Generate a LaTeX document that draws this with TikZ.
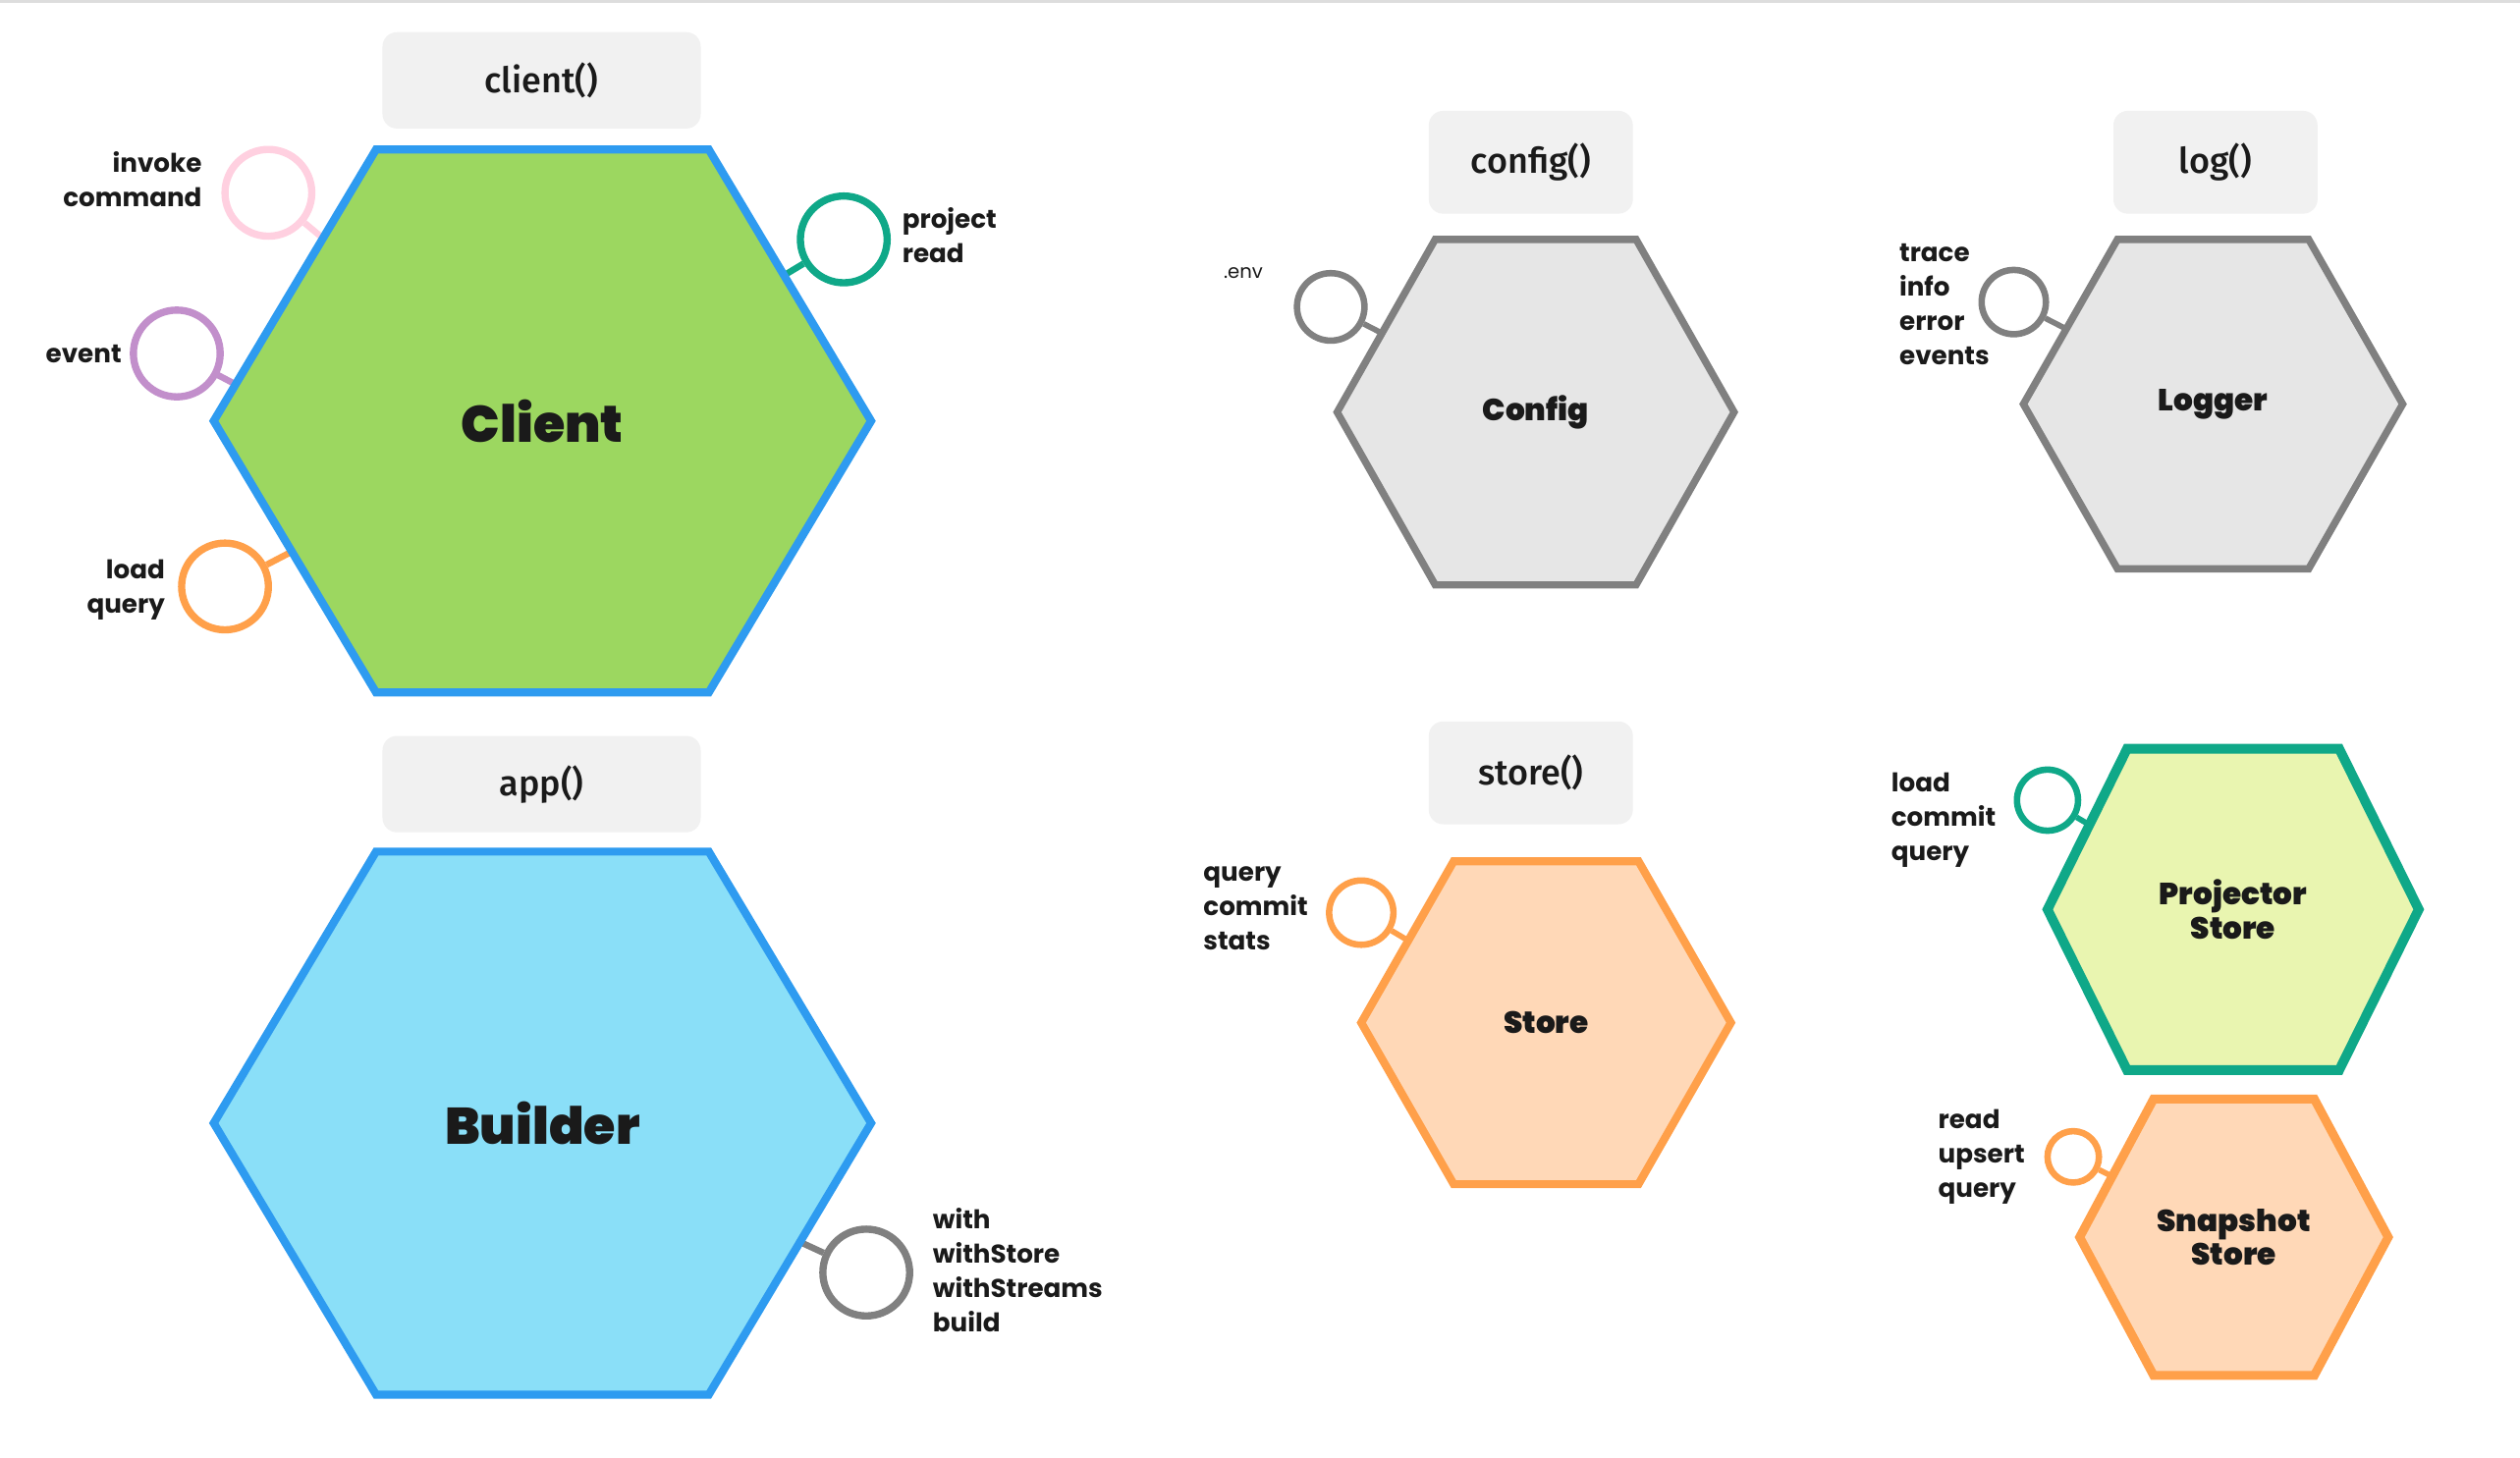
\documentclass[tikz,border=0pt]{standalone}
\usepackage{fontspec}
\setmainfont{Poppins}
\newfontfamily\boxfont{Fira Sans Medium}
\newfontfamily\heavyfont{Poppins Black}
\usepackage{tikz}
\usetikzlibrary{positioning, calc, backgrounds}
\definecolor{colBlue}{RGB}{46,155,240}
\definecolor{colGreen}{RGB}{156,215,96}
\definecolor{colCyan}{RGB}{138,223,248}
\definecolor{colGray}{RGB}{128,128,128}
\definecolor{colLight}{RGB}{230,230,230}
\definecolor{colOrange}{RGB}{255,160,74}
\definecolor{colPeach}{RGB}{255,216,183}
\definecolor{colTeal}{RGB}{15,168,136}
\definecolor{colLime}{RGB}{233,245,176}
\definecolor{colPink}{RGB}{255,208,224}
\definecolor{colPurple}{RGB}{194,143,203}
\definecolor{colBox}{RGB}{241,241,241}
\definecolor{colInk}{RGB}{26,26,26}
\definecolor{colRule}{RGB}{221,221,221}

% name, label options, centre, half width, half height, half top edge, path style, text
\newcommand{\hexnode}[8]{%
  \path[#7] ($(#3)+(-#6,-#5)$) -- ($(#3)+(#6,-#5)$) -- ($(#3)+(#4,0)$)
    -- ($(#3)+(#6,#5)$) -- ($(#3)+(-#6,#5)$) -- ($(#3)+(-#4,0)$) -- cycle;
  \node[hexlbl, #2] (#1) at (#3) {#8};
}

\begin{document}
\begin{tikzpicture}[
  x=1pt, y=-1pt,
  hexlbl/.style={font=\heavyfont\fontsize{19}{21}\selectfont, text=colInk, align=center},
  bighex/.style={font=\heavyfont\fontsize{32}{36}\selectfont},
  hexside/.style={line width=5pt, line join=miter},
  fnbox/.style={rounded corners=9pt, fill=colBox, text=colInk,
                font=\boxfont\fontsize{22}{26}\selectfont},
  port/.style={circle, draw=#1, line width=4.5pt, fill=white, inner sep=0pt},
  stub/.style={draw=#1, line width=4pt},
  portlbl/.style={font=\bfseries\fontsize{16}{21.5}\selectfont, text=colInk, inner sep=0pt},
]
\path[use as bounding box] (0,0) rectangle (1568,907);
\draw[colRule, line width=2pt] (0,1) -- (1568,1);

% function boxes
\node[fnbox, minimum width=198pt, minimum height=60pt] (clientfn) at (337,50) {client()};
\node[fnbox, minimum width=198pt, minimum height=60pt] (appfn) at (337,488) {app()};
\node[fnbox, minimum width=127pt, minimum height=64pt] (configfn) at (952.5,101) {config()};
\node[fnbox, minimum width=127pt, minimum height=64pt] (logfn) at (1378.5,101) {log()};
\node[fnbox, minimum width=127pt, minimum height=64pt] (storefn) at (952.5,481) {store()};

% hexagons
\hexnode{client}{bighex}{337.5,262}{204.5}{169}{103.5}{hexside, fill=colGreen, draw=colBlue}{Client}
\hexnode{builder}{bighex}{337.5,699}{204.5}{169}{103.5}{hexside, fill=colCyan, draw=colBlue}{Builder}
\hexnode{config}{}{955.5,256.5}{123.5}{107.5}{62.5}{hexside, line width=4.5pt, fill=colLight, draw=colGray}{Config}
\hexnode{logger}{}{1377,251.5}{118}{102.5}{59.5}{hexside, line width=4.5pt, fill=colLight, draw=colGray}{Logger}
\hexnode{store}{}{962,636.5}{115}{100.5}{57.5}{hexside, fill=colPeach, draw=colOrange}{Store}
\hexnode{projector}{}{1389.5,566}{115.5}{100}{66}{hexside, line width=6pt, fill=colLime, draw=colTeal}{Projector\\Store}
\hexnode{snapshot}{}{1390,770}{96}{86}{50}{hexside, line width=5.5pt, fill=colPeach, draw=colOrange}{Snapshot\\Store}
\coordinate (client-evt) at (190,262);

% ports
\node[port=colPink, minimum size=54pt] (invoke) at (167,120) {};
\node[portlbl, align=right, left=12pt of invoke, yshift=8.5pt] (invoke-l) {invoke\\command};
\node[port=colPurple, minimum size=54pt] (event) at (110,220) {};
\node[portlbl, left=5pt of event] (event-l) {event};
\node[port=colOrange, minimum size=54pt] (loadq) at (140,365) {};
\node[portlbl, align=right, left=8pt of loadq, yshift=-2pt] (loadq-l) {load\\query};
\node[port=colTeal, minimum size=54pt] (projread) at (525,149) {};
\node[portlbl, align=left, right=7pt of projread, yshift=2.5pt] (projread-l) {project\\read};
\node[port=colGray, minimum size=54pt] (build) at (539,792) {};
\node[portlbl, align=left, right=12pt of build, yshift=1.5pt] (build-l) {with\\withStore\\withStreams\\build};
\node[port=colGray, line width=4pt, minimum size=42pt] (env) at (828,191) {};
\node[portlbl, font=\fontsize{12}{14}\selectfont, left=19pt of env, yshift=21pt] (env-l) {.env};
\node[port=colGray, line width=4pt, minimum size=40pt] (logport) at (1253,188) {};
\node[portlbl, align=left, left=-7pt of logport, yshift=-1.5pt] (logport-l) {trace\\info\\error\\events};
\node[port=colOrange, line width=4pt, minimum size=40pt] (storeport) at (847,568) {};
\node[portlbl, align=left, left=11pt of storeport, yshift=2.5pt] (storeport-l) {query\\commit\\stats};
\node[port=colTeal, line width=4pt, minimum size=38pt] (projport) at (1274,498) {};
\node[portlbl, align=left, left=11pt of projport, yshift=-12.5pt] (projport-l) {load\\commit\\query};
\node[port=colOrange, line width=4pt, minimum size=32pt] (snapport) at (1290,720) {};
\node[portlbl, align=left, left=12pt of snapport] (snapport-l) {read\\upsert\\query};

% stubs
\begin{scope}[on background layer]
\fill[white] (0,2) rectangle (1568,907);
\draw[stub=colPink] (invoke) -- (client);
\draw[stub=colPurple] (event.center) -- (client-evt);
\draw[stub=colOrange] (loadq) -- (client);
\draw[stub=colTeal] (projread) -- (client);
\draw[stub=colGray] (build) -- (builder);
\draw[stub=colGray, line width=3.5pt] (env) -- (config);
\draw[stub=colGray, line width=3.5pt] (logport) -- (logger);
\draw[stub=colOrange, line width=3.5pt] (storeport) -- (store);
\draw[stub=colTeal, line width=3.5pt] (projport) -- (projector);
\draw[stub=colOrange, line width=3.5pt] (snapport) -- (snapshot);
\end{scope}
\end{tikzpicture}
\end{document}
